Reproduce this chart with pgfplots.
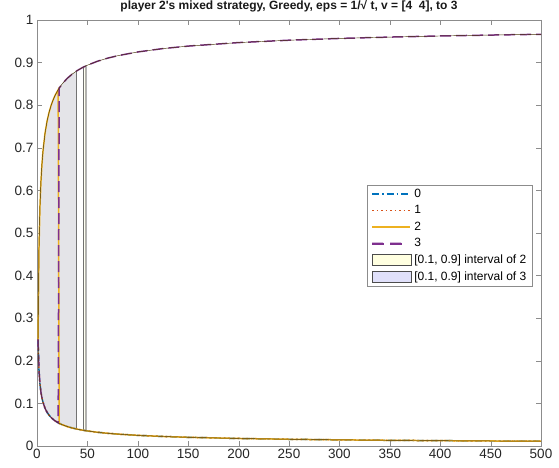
\documentclass[border=0pt]{standalone}
\usepackage{fontspec}
\setmainfont{Liberation Sans}
\usepackage{pgfplots}
\usepackage{pgfplotstable}
\pgfplotsset{compat=1.18}

\definecolor{mlblue}{rgb}{0,0.447,0.741}
\definecolor{mlred}{rgb}{0.850,0.325,0.098}
\definecolor{mlyellow}{rgb}{0.929,0.694,0.125}
\definecolor{mlpurple}{rgb}{0.494,0.184,0.556}
\definecolor{bandgray}{rgb}{0.894,0.894,0.910}
\definecolor{patchyellow}{rgb}{1,1,0.88}
\definecolor{patchblue}{rgb}{0.88,0.88,0.98}

\tikzset{
  s0/.style={draw=mlblue, line width=1.5pt, dash pattern=on 7pt off 3pt on 1.5pt off 3pt},
  s1/.style={draw=mlred, line width=1.5pt, dash pattern=on 1.5pt off 3pt},
  s2/.style={draw=mlyellow, line width=1.5pt},
  s3/.style={draw=mlpurple, line width=1.5pt, dash pattern=on 11pt off 5pt},
}

% t, high share, low share
\pgfplotstableread{
t u l
1 0.25 0.25
2 0.46967 0.17678
3 0.56699 0.14434
4 0.625 0.125
5 0.66459 0.11180
6 0.69381 0.10206
8 0.73484 0.08839
10 0.76283 0.07906
12 0.78349 0.07217
14 0.79955 0.06682
16 0.8125 0.0625
18 0.82322 0.05893
21 0.83634 0.05455
22 0.84010 0.05330
25 0.85 0.05
30 0.86307 0.04564
35 0.87323 0.04226
40 0.88141 0.03953
45 0.88820 0.03727
50 0.89393 0.03536
60 0.90318 0.03227
70 0.91036 0.02988
80 0.91615 0.02795
100 0.925 0.025
125 0.93292 0.02236
150 0.93876 0.02041
200 0.94697 0.01768
250 0.95257 0.01581
300 0.95670 0.01443
350 0.95991 0.01336
400 0.9625 0.0125
450 0.96464 0.01179
500 0.96646 0.01118
}\curves

\begin{document}
\begin{tikzpicture}
\begin{axis}[%
width=504pt,
height=426pt,
at={(0,0)},
anchor=south west,
scale only axis,
xmin=0, xmax=500,
ymin=0, ymax=1,
xtick={0,50,100,150,200,250,300,350,400,450,500},
ytick={0,0.1,0.2,0.3,0.4,0.5,0.6,0.7,0.8,0.9,1},
yticklabels={0,0.1,0.2,0.3,0.4,0.5,0.6,0.7,0.8,0.9,1},
xticklabels={0,50,100,150,200,250,300,350,400,450,500},
tick pos=both,
tick align=inside,
major tick length=5pt,
axis line style={black!45},
tick style={black!45},
ticklabel style={font=\fontsize{13.5}{15}\selectfont, text=black!85},
title style={font=\fontsize{12}{14}\selectfont\bfseries, text=black!90, yshift=-2pt},
title={player 2\textquotesingle s mixed strategy, Greedy, eps = 1/√ t, v = [4\ \ 4], to 3},
axis background/.style={fill=white},
legend style={at={(rel axis cs:0.655,0.613)}, anchor=north west,
  draw=black!45, font=\fontsize{12}{14}\selectfont, legend cell align=left,
  row sep=2.6pt, inner xsep=4pt, inner ysep=2pt,
  /tikz/every odd column/.append style={column sep=1pt}},
]
% band where the switch time varies
\addplot[fill=bandgray, draw=none, forget plot] coordinates {
(1,0.25)(2,0.46967)(3,0.56699)(4,0.625)(5,0.66459)(6,0.69381)(8,0.73484)
(10,0.76283)(12,0.78349)(14,0.79955)(16,0.8125)(18,0.82322)(21,0.83634)
(22,0.84010)(25,0.85)(30,0.86307)(35,0.87323)(39.5,0.88067)
(39.5,0.03978)(35,0.04226)(30,0.04564)(25,0.05)(22,0.0533)(21,0.05455)
(18,0.05893)(16,0.0625)(14,0.06682)(12,0.07217)(10,0.07906)(8,0.08839)
(6,0.10206)(5,0.1118)(4,0.125)(3,0.14434)(2,0.17678)(1,0.25)} -- cycle;
\addplot[draw=black!55, line width=1pt, forget plot] coordinates {(39.5,0.03978)(39.5,0.88067)};
\addplot[fill=patchyellow!40, draw=black!85, line width=0.6pt, forget plot] coordinates {
(46.3,0.03674)(46.3,0.88978)(48.6,0.89242)(48.6,0.03586)} -- cycle;

\addplot[s0, forget plot] table[x=t, y=l] {\curves};
\addplot[s1, forget plot] table[x=t, y=l] {\curves};
\addplot[s2, forget plot] coordinates {
(1,0.25)(2,0.46967)(3,0.56699)(4,0.625)(5,0.66459)(6,0.69381)(8,0.73484)
(10,0.76283)(12,0.78349)(14,0.79955)(16,0.8125)(18,0.82322)(21,0.83634)
(22,0.0533)(25,0.05)(30,0.04564)(35,0.04226)(40,0.03953)(45,0.03727)
(50,0.03536)(60,0.03227)(70,0.02988)(80,0.02795)(100,0.025)(125,0.02236)
(150,0.02041)(200,0.01768)(250,0.01581)(300,0.01443)(350,0.01336)
(400,0.0125)(450,0.01179)(500,0.01118)};
\addplot[s3, forget plot] coordinates {
(1,0.25)(2,0.17678)(3,0.14434)(4,0.125)(5,0.1118)(6,0.10206)(8,0.08839)
(10,0.07906)(12,0.07217)(14,0.06682)(16,0.0625)(18,0.05893)(21,0.05455)
(22,0.84010)(25,0.85)(30,0.86307)(35,0.87323)(40,0.88141)(45,0.88820)
(50,0.89393)(60,0.90318)(70,0.91036)(80,0.91615)(100,0.925)(125,0.93292)
(150,0.93876)(200,0.94697)(250,0.95257)(300,0.95670)(350,0.95991)
(400,0.9625)(450,0.96464)(500,0.96646)};

% thin patch edges along the curves
\addplot[draw=black!70!mlyellow, line width=0.45pt, forget plot] table[x=t, y=u] {\curves};
\addplot[draw=black!70!mlyellow, line width=0.45pt, forget plot] table[x=t, y=l] {\curves};

\addlegendimage{legend image code/.code={\draw[s0] (0pt,0pt) -- (38pt,0pt);}}
\addlegendentry{0}
\addlegendimage{legend image code/.code={\draw[s1] (0pt,0pt) -- (38pt,0pt);}}
\addlegendentry{1}
\addlegendimage{legend image code/.code={\draw[s2] (0pt,0pt) -- (38pt,0pt);}}
\addlegendentry{2}
\addlegendimage{legend image code/.code={\color{mlpurple}\pgfsetfillcolor{mlpurple}\fill (0pt,-0.6pt) rectangle (11pt,0.6pt) (18pt,-0.6pt) rectangle (29pt,0.6pt);}}
\addlegendentry{3}
\addlegendimage{legend image code/.code={\draw[fill=patchyellow, draw=black!70] (0pt,-5.5pt) rectangle (39pt,5.5pt);}}
\addlegendentry{[0.1, 0.9] interval of 2}
\addlegendimage{legend image code/.code={\draw[fill=patchblue, draw=black!70] (0pt,-5.5pt) rectangle (39pt,5.5pt);}}
\addlegendentry{[0.1, 0.9] interval of 3}
\end{axis}
\pgfresetboundingbox
\path (current axis.south west) ++(-37pt,-22pt) coordinate (bl);
\path (current axis.north east) ++(18pt,20pt) coordinate (tr);
\useasboundingbox (bl) rectangle (tr);
\end{tikzpicture}
\end{document}
